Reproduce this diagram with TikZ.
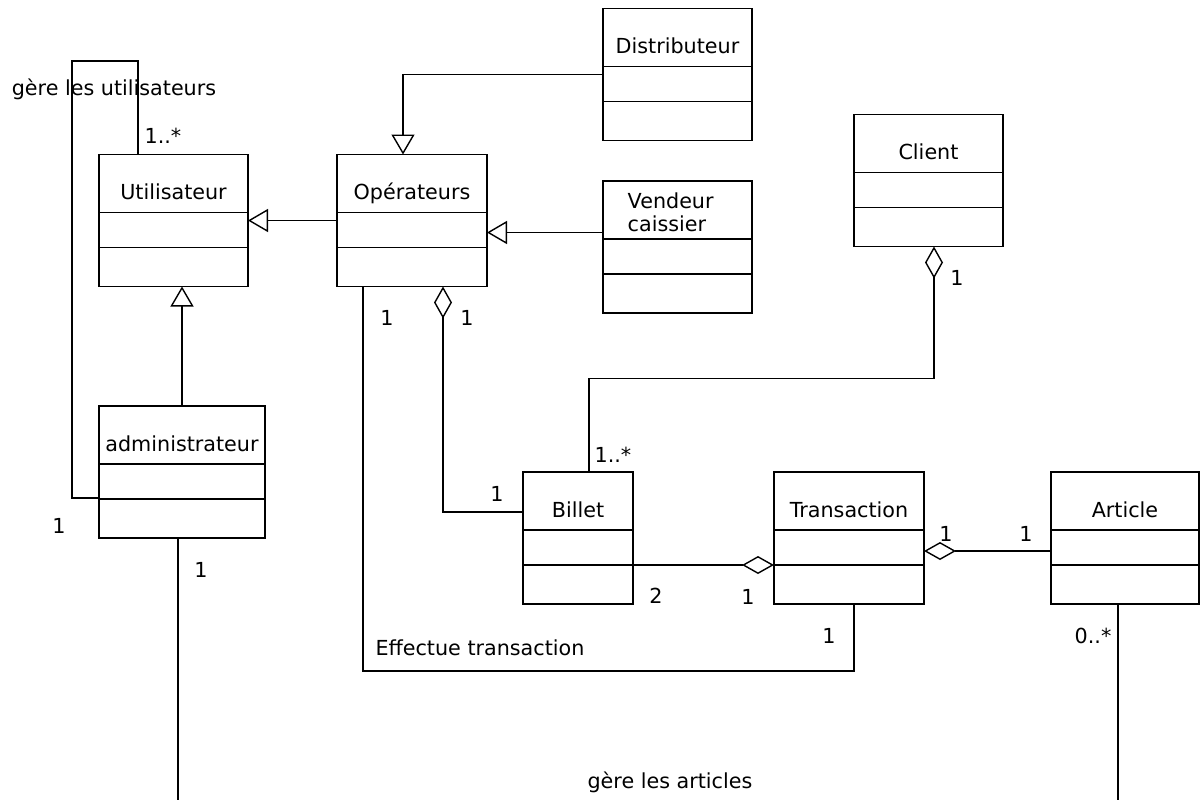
\documentclass[tikz,border=0pt]{standalone}
\usepackage{fontspec}
\setmainfont{DejaVu Sans}
\usetikzlibrary{arrows.meta,calc}

\begin{document}
\begin{tikzpicture}[x=0.5pt,y=0.5pt,line width=0.7pt,font=\fontsize{10.35pt}{11.5pt}\selectfont]
    \tikzset{classe/.style = {shape=rectangle,draw,outer sep=0pt,minimum width=74.5pt,minimum height=66pt}}
    \tikzset{titre/.style = {anchor=base,inner sep=0pt}}
    \tikzset{mult/.style = {anchor=base,inner sep=0pt}}
    \tikzset{herite/.style = {-{Triangle[open,length=10pt,width=11.5pt]}}}
    \tikzset{agreg/.style = {{Diamond[open,length=16pt,width=9pt]}-}}
    \tikzset{agregfin/.style = {-{Diamond[open,length=16pt,width=9pt]}}}
    \useasboundingbox (0,0) rectangle (1200,-800);
    % classes
    \node[classe] (util) at (173.5,-220.5) {};
    \node[classe,minimum width=75pt] (oper) at (412,-220.5) {};
    \node[classe] (dist) at (677.5,-74.5) {};
    \node[classe] (vend) at (677.5,-247) {};
    \node[classe] (client) at (928.5,-180.5) {};
    \node[classe,minimum width=83pt] (admin) at (182,-472) {};
    \node[classe,minimum width=55pt] (billet) at (578,-538) {};
    \node[classe,minimum width=75pt] (trans) at (849,-538) {};
    \node[classe,minimum width=74pt] (art) at (1125,-538) {};
    \foreach \c in {util,oper,dist,vend,client,admin,billet,trans,art}{
        \draw ($(\c.north west)+(0,-58)$) -- ($(\c.north east)+(0,-58)$);
        \draw ($(\c.north west)+(0,-93)$) -- ($(\c.north east)+(0,-93)$);
    }
    \node[titre] (util-t) at (173.5,-199) {Utilisateur};
    \node[titre] (oper-t) at (412,-199) {Opérateurs};
    \node[titre] (dist-t) at (677.5,-53) {Distributeur};
    \node[titre,align=left,anchor=base west] (vend-t) at (627,-231) {Vendeur\\caissier};
    \node[titre] (client-t) at (928.5,-159) {Client};
    \node[titre] (admin-t) at (182,-451) {administrateur};
    \node[titre] (billet-t) at (578,-517) {Billet};
    \node[titre] (trans-t) at (849,-517) {Transaction};
    \node[titre] (art-t) at (1125,-517) {Article};
%%%%%%%%%%%%%%%%%
    % heritage
    \draw[herite] (admin.north) -- (admin.north |- util.south);
    \draw[herite] (oper.west) -- (util.east);
    \draw[herite] (dist.west) -| ([xshift=-4.5pt]oper.north);
    \coordinate (v) at ([yshift=-6pt]oper.east);
    \draw[herite] (vend.west |- v) -- (v);
%%%%%%%%%%%%%%%%%
    % gere les utilisateurs
    \coordinate (boucle) at (72,-61);
    \draw ([xshift=-17.75pt]util.north) |- (boucle) |- ([yshift=-13pt]admin.west);
    \node[mult] (l1) at (114,-95) {gère les utilisateurs};
    \node[mult] (m1) at (163,-143) {1..*};
    \node[mult] (m2) at (59,-533) {1};
    % gere les articles
    \coordinate (bas) at (0,-800);
    \draw ([xshift=-2pt]admin.south) -- ([xshift=-2pt]admin.south |- bas);
    \draw ([xshift=-3.5pt]art.south) -- ([xshift=-3.5pt]art.south |- bas);
    \node[mult] (m3) at (201,-577) {1};
    \node[mult] (m4) at (1093,-643) {0..*};
    \node[mult] (l2) at (670,-788) {gère les articles};
%%%%%%%%%%%%%%%%%
    % aggregations
    \draw[agreg] ([xshift=2.75pt]client.south) -- ++(0,-132) -| ([xshift=5.5pt]billet.north);
    \node[mult] (m5) at (957,-285) {1};
    \node[mult] (m6) at (613,-462) {1..*};
    \draw[agreg] ([xshift=15.5pt]oper.south) |- ([yshift=13pt]billet.west);
    \node[mult] (m7) at (467,-325) {1};
    \node[mult] (m8) at (497,-501) {1};
    \draw[agregfin] ([yshift=-13.5pt]billet.east) -- ([yshift=-13.5pt]trans.west);
    \node[mult] (m9) at (656,-603) {2};
    \node[mult] (m10) at (748,-604) {1};
    \draw[agreg] ([yshift=-6.5pt]trans.east) -- ([yshift=-6.5pt]art.west);
    \node[mult] (m11) at (946,-541) {1};
    \node[mult] (m12) at (1026,-541) {1};
%%%%%%%%%%%%%%%%%
    % effectue transaction
    \draw ([xshift=-24.5pt]oper.south) -- ++(0,-384.5) -| ([xshift=2.5pt]trans.south);
    \node[mult] (m13) at (387,-325) {1};
    \node[mult] (m14) at (829,-643) {1};
    \node[mult] (l3) at (480,-655) {Effectue transaction};
\end{tikzpicture}
\end{document}
